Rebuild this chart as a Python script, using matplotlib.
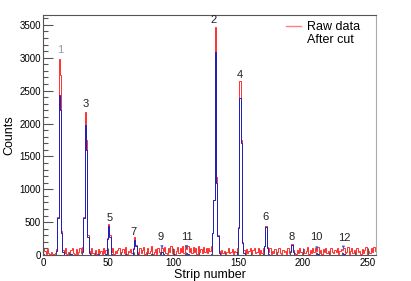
import matplotlib
matplotlib.use("Agg")
import matplotlib.pyplot as plt
import numpy as np
from matplotlib.lines import Line2D
from matplotlib.ticker import MultipleLocator

plt.rcParams["font.family"] = ["Liberation Sans", "DejaVu Sans"]

# strip histogram: 256 strips, counts per strip
raw = [
    110, 60, 20, 90, 30, 15, 40, 20, 10, 30, 90, 580, 2980, 2740, 360, 70,
    25, 110, 20, 40, 15, 70, 100, 30, 20, 90, 15, 40, 110, 30, 120, 580,
    2180, 1750, 300, 60, 20, 110, 30, 20, 80, 15, 90, 30, 60, 20, 110, 25,
    70, 260, 470, 300, 40, 100, 20, 60, 30, 80, 110, 20, 50, 90, 30, 120,
    20, 60, 40, 90, 30, 110, 270, 150, 50, 20, 100, 30, 70, 120, 20, 40,
    100, 30, 60, 130, 20, 40, 90, 20, 110, 50, 30, 100, 60, 120, 30, 20,
    110, 50, 130, 30, 90, 20, 60, 120, 30, 100, 40, 130, 30, 150, 90, 130,
    40, 110, 30, 120, 50, 100, 20, 130, 40, 90, 30, 120, 50, 110, 30, 100,
    60, 130, 330, 840, 3475, 1180, 300, 60, 20, 70, 30, 60, 20, 50, 100, 30,
    40, 90, 20, 60, 40, 110, 420, 2640, 1750, 200, 80, 20, 90, 30, 60, 100,
    20, 70, 110, 30, 50, 100, 20, 80, 30, 100, 140, 440, 120, 40, 110, 20,
    60, 30, 90, 20, 50, 100, 30, 20, 80, 40, 60, 20, 100, 30, 60, 170,
    70, 30, 20, 80, 30, 100, 40, 20, 90, 30, 60, 120, 20, 70, 30, 110,
    40, 100, 60, 120, 30, 70, 20, 90, 40, 100, 30, 60, 20, 110, 50, 30,
    80, 40, 100, 20, 60, 90, 70, 110, 30, 50, 120, 20, 60, 100, 30, 80,
    20, 110, 40, 60, 20, 90, 30, 70, 120, 20, 60, 30, 100, 40, 120, 60,
]
after_cut = [
    10, 0, 0, 5, 0, 0, 0, 5, 0, 0, 60, 560, 2440, 2200, 340, 40,
    0, 5, 0, 0, 0, 10, 0, 0, 0, 5, 0, 0, 5, 0, 40, 560,
    1980, 1600, 280, 30, 0, 0, 5, 0, 0, 0, 10, 0, 0, 0, 5, 0,
    10, 250, 440, 280, 20, 0, 0, 5, 0, 0, 0, 0, 5, 0, 0, 10,
    0, 0, 5, 0, 0, 90, 230, 130, 20, 0, 0, 0, 5, 0, 0, 0,
    5, 0, 0, 10, 0, 0, 5, 0, 0, 5, 20, 40, 15, 0, 0, 0,
    5, 0, 0, 0, 10, 0, 0, 5, 0, 0, 0, 5, 0, 10, 30, 15,
    0, 0, 5, 0, 0, 0, 5, 0, 0, 5, 0, 0, 0, 5, 0, 0,
    0, 10, 330, 840, 3090, 1100, 290, 30, 0, 5, 0, 0, 0, 5, 0, 0,
    0, 5, 0, 0, 0, 40, 410, 2390, 1700, 190, 30, 0, 5, 0, 0, 5,
    0, 0, 5, 0, 0, 0, 5, 0, 0, 10, 130, 420, 110, 10, 0, 0,
    5, 0, 0, 0, 5, 0, 0, 0, 5, 0, 0, 0, 5, 0, 40, 150,
    50, 0, 0, 5, 0, 0, 5, 0, 0, 0, 5, 0, 0, 5, 0, 0,
    5, 0, 30, 15, 0, 0, 5, 0, 0, 0, 5, 0, 0, 5, 0, 0,
    0, 5, 0, 0, 5, 0, 30, 20, 0, 0, 5, 0, 0, 5, 0, 0,
    5, 0, 0, 5, 0, 0, 5, 0, 0, 0, 5, 0, 0, 5, 0, 0,
]
edges = np.arange(257)

# peak labels: (text, x, y)
peak_names = ["1", "2", "3", "4", "5", "6", "7", "8", "9", "10", "11", "12"]
peak_x = [13.0, 131.0, 33.0, 151.0, 51.4, 171.0, 69.8, 191.0, 90.5, 210.0, 110.4, 232.0]
peak_y = [3120, 3573, 2300, 2740, 563, 578, 350, 274, 274, 274, 274, 259]
arrow_x = [91.5, 210.5, 110.5, 231.0]
arrow_top = [150, 150, 150, 150]
arrow_tip = [55, 80, 55, 50]

fig = plt.figure(figsize=(4.11, 2.81), dpi=100)
ax = fig.add_axes([0.1046, 0.0925, 0.81, 0.854])

ax.stairs(raw, edges, color="#ff3030", lw=0.7)
ax.stairs(after_cut, edges, color="#2020b8", lw=0.7)

for name, x, y in zip(peak_names, peak_x, peak_y):
    ax.text(x, y, name, ha="center", va="center", fontsize=8,
            color="#999999" if name == "1" else "#222222")
for x, t, h in zip(arrow_x, arrow_top, arrow_tip):
    ax.annotate("", xy=(x, h), xytext=(x, t),
                arrowprops=dict(arrowstyle="-|>", color="#5050d0", lw=0.5,
                                mutation_scale=4))

ax.set_xlim(0, 256)
ax.set_ylim(0, 3650)
ax.xaxis.set_major_locator(MultipleLocator(50))
ax.xaxis.set_minor_locator(MultipleLocator(10))
ax.yaxis.set_major_locator(MultipleLocator(500))
ax.yaxis.set_minor_locator(MultipleLocator(100))
ax.tick_params(axis="y", which="major", direction="in", length=7, width=0.8,
               labelsize=7, pad=1.5, color="#555555")
ax.tick_params(axis="y", which="minor", direction="in", length=3.5, width=0.8,
               color="#555555")
ax.tick_params(axis="x", which="major", direction="in", length=5, width=0.8,
               labelsize=7, pad=2, color="#555555")
ax.tick_params(axis="x", which="minor", direction="in", length=2.5, width=0.8,
               color="#555555")
for side in ["left", "bottom", "top"]:
    ax.spines[side].set_color("#555555")
    ax.spines[side].set_linewidth(0.8)
ax.spines["right"].set_color("#aaaaaa")
ax.spines["right"].set_linewidth(0.8)

ax.set_xlabel("Strip number", fontsize=9, labelpad=1)
ax.set_ylabel("Counts", fontsize=9, labelpad=3)

handles = [Line2D([], [], color="#ff8080", lw=1.0),
           Line2D([], [], color="none", lw=1.0)]
ax.legend(handles, ["Raw data", "After cut"], loc="upper left",
          bbox_to_anchor=(0.73, 0.975), frameon=False, fontsize=9,
          handlelength=1.2, handletextpad=0.45, labelspacing=0.1,
          borderpad=0, borderaxespad=0)

fig.savefig("out.png", dpi=100)
